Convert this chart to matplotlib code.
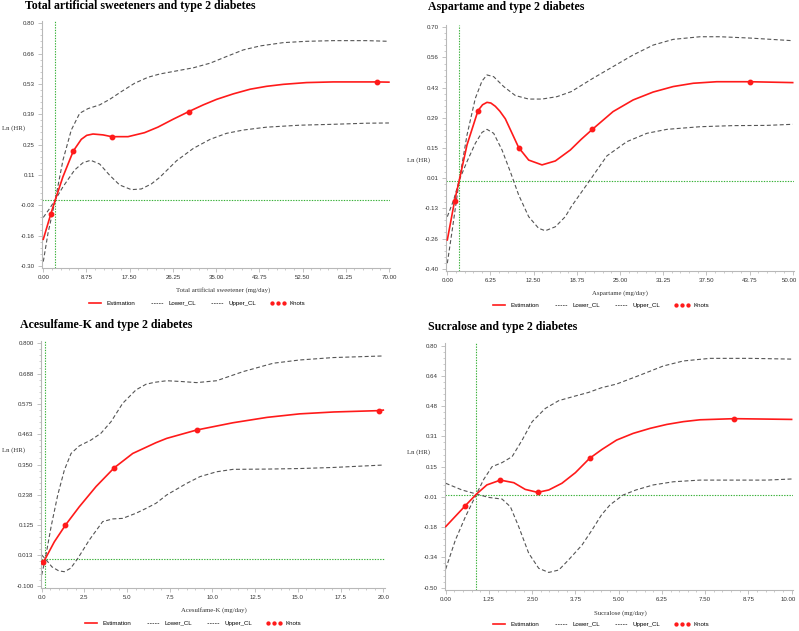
import numpy as np
import matplotlib
matplotlib.use("Agg")
import matplotlib.pyplot as plt
import matplotlib.transforms as mtransforms
from matplotlib.lines import Line2D
from matplotlib.ticker import AutoMinorLocator

# ---------------- data ----------------
# Total artificial sweeteners
tot_est_x = [0, 1.50, 2.43, 3.99, 6.08, 7.70, 8.8, 10.07, 12.1, 13.85, 17.16, 20.5, 23.2, 26.3,
             29.5, 32.4, 35.1, 38.5, 41.9, 45.2, 48.6, 53.3, 58.7, 63.0, 67.5, 70]
tot_est_y = [-0.179, -0.066, 0.0, 0.105, 0.221, 0.274, 0.292, 0.298, 0.294, 0.286, 0.286, 0.304, 0.329, 0.365,
             0.400, 0.430, 0.455, 0.480, 0.501, 0.514, 0.523, 0.531, 0.534, 0.534, 0.534, 0.533]
tot_up_x = [0, 0.95, 2.43, 3.99, 5.67, 7.37, 9.05, 11.42, 13.45, 15.8, 18.5, 21.2, 23.6, 27.0,
            30.4, 33.8, 37.1, 40.5, 43.9, 48.6, 53.3, 58.7, 65.5, 70]
tot_up_y = [-0.280, -0.152, 0.0, 0.180, 0.316, 0.392, 0.413, 0.430, 0.455, 0.490, 0.528, 0.555, 0.570, 0.584,
            0.598, 0.619, 0.649, 0.679, 0.697, 0.712, 0.718, 0.721, 0.721, 0.718]
tot_lo_x = [0, 1.30, 2.43, 3.99, 6.35, 8.04, 9.6, 11.42, 13.45, 15.47, 17.83, 19.85, 21.9, 23.6,
            27.0, 30.4, 33.8, 37.1, 40.5, 45.2, 52, 58.7, 65.5, 70]
tot_lo_y = [-0.080, -0.039, 0.0, 0.059, 0.135, 0.168, 0.179, 0.162, 0.111, 0.067, 0.046, 0.049, 0.072, 0.102,
            0.177, 0.233, 0.274, 0.301, 0.316, 0.329, 0.338, 0.342, 0.347, 0.348]
tot_knot_x = [1.50, 6.08, 13.85, 29.5, 67.5]
tot_knot_y = [-0.066, 0.221, 0.286, 0.400, 0.534]

# Aspartame
asp_est_x = [0, 1.06, 1.74, 2.85, 4.44, 5.1, 5.74, 6.3, 6.95, 7.6, 8.40, 9.3, 10.33, 11.78, 13.71, 15.64,
             17.81, 19.4, 21.0, 24.0, 26.9, 29.8, 32.7, 35.6, 39.0, 43.8, 50]
asp_est_y = [-0.269, -0.090, 0.004, 0.164, 0.320, 0.347, 0.358, 0.355, 0.340, 0.318, 0.283, 0.222, 0.152, 0.095,
             0.073, 0.091, 0.141, 0.190, 0.235, 0.316, 0.369, 0.405, 0.430, 0.445, 0.452, 0.452, 0.448]
asp_up_x = [0, 0.68, 1.74, 2.85, 4.05, 5.02, 5.74, 6.71, 8.16, 9.85, 11.78, 13.71, 15.88, 17.95,
            21.1, 24.0, 26.9, 29.8, 32.7, 36.6, 39.5, 43.8, 50]
asp_up_y = [-0.375, -0.231, 0.004, 0.209, 0.376, 0.455, 0.483, 0.475, 0.430, 0.389, 0.373, 0.373, 0.384, 0.407,
            0.468, 0.521, 0.574, 0.619, 0.645, 0.657, 0.657, 0.651, 0.639]
asp_lo_x = [0, 0.92, 1.74, 2.85, 4.05, 5.02, 5.74, 6.71, 7.92, 9.12, 10.33, 11.78, 13.22, 14.19,
            15.64, 17.08, 17.95, 20.66, 23.1, 26.0, 28.9, 31.8, 36.6, 41.4, 46.2, 50]
asp_lo_y = [-0.163, -0.087, 0.004, 0.088, 0.171, 0.221, 0.235, 0.217, 0.141, 0.042, -0.064, -0.163, -0.216, -0.227,
            -0.209, -0.163, -0.117, 0.004, 0.114, 0.179, 0.217, 0.235, 0.247, 0.252, 0.253, 0.258]
asp_knot_x = [1.06, 4.44, 10.33, 21.0, 43.8]
asp_knot_y = [-0.090, 0.320, 0.152, 0.235, 0.452]

# Acesulfame-K
ace_est_x = [0, 0.10, 0.21, 0.74, 1.39, 2.20, 3.18, 4.25, 5.33, 6.69, 7.32, 9.07,
             11.2, 13.2, 15.1, 17.1, 19.75, 20]
ace_est_y = [-0.017, -0.013, 0.0, 0.063, 0.125, 0.193, 0.268, 0.338, 0.391, 0.431, 0.447, 0.478,
             0.505, 0.525, 0.538, 0.545, 0.550, 0.552]
ace_up_x = [0, 0.21, 0.55, 0.94, 1.33, 1.72, 2.20, 2.89, 3.47, 4.06, 4.74, 5.52, 6.11, 6.60,
            7.32, 8.2, 9.07, 10.24, 11.8, 13.56, 15.1, 17.07, 20]
ace_up_y = [-0.060, 0.0, 0.119, 0.237, 0.330, 0.391, 0.419, 0.441, 0.466, 0.509, 0.577, 0.627, 0.648, 0.655,
            0.661, 0.658, 0.654, 0.661, 0.695, 0.726, 0.738, 0.747, 0.753]
ace_lo_x = [0, 0.21, 0.6, 1.0, 1.33, 1.7, 2.11, 2.79, 3.57, 4.16, 4.74, 5.52, 6.11, 6.69,
            7.32, 8.49, 9.27, 10.24, 11.2, 13.2, 15.1, 17.07, 20]
ace_lo_y = [0.014, 0.0, -0.030, -0.045, -0.048, -0.035, 0.001, 0.070, 0.138, 0.148, 0.150, 0.169, 0.187, 0.206,
            0.237, 0.280, 0.305, 0.323, 0.332, 0.333, 0.335, 0.339, 0.348]
ace_knot_x = [0.10, 1.39, 4.25, 9.07, 19.75]
ace_knot_y = [-0.013, 0.125, 0.338, 0.478, 0.550]

# Sucralose
suc_est_x = [0, 0.57, 0.89, 1.19, 1.58, 1.97, 2.30, 2.66, 2.98, 3.36, 3.75, 4.16, 4.52, 4.94,
             5.42, 5.91, 6.39, 6.87, 7.35, 8.34, 10]
suc_est_y = [-0.172, -0.059, 0.003, 0.052, 0.078, 0.064, 0.028, 0.012, 0.025, 0.061, 0.118, 0.195, 0.243, 0.293,
             0.329, 0.356, 0.377, 0.392, 0.402, 0.408, 0.404]
suc_up_x = [0, 0.28, 0.57, 0.89, 1.10, 1.34, 1.63, 1.92, 2.21, 2.50, 2.88, 3.27, 3.75, 4.13,
            4.50, 4.94, 5.62, 6.29, 6.87, 7.64, 8.80, 10]
suc_up_y = [-0.400, -0.244, -0.119, 0.003, 0.082, 0.150, 0.172, 0.204, 0.293, 0.392, 0.463, 0.505, 0.530, 0.549,
            0.574, 0.594, 0.642, 0.691, 0.718, 0.732, 0.732, 0.728]
suc_lo_x = [0, 0.47, 0.89, 1.24, 1.63, 1.87, 2.11, 2.40, 2.69, 2.98, 3.27, 3.55, 3.94, 4.23,
            4.50, 4.75, 5.13, 5.5, 6.0, 6.58, 7.35, 8.31, 9.28, 10]
suc_lo_y = [0.061, 0.025, 0.003, -0.015, -0.024, -0.065, -0.172, -0.315, -0.396, -0.418, -0.405, -0.351, -0.271, -0.190,
            -0.110, -0.055, -0.002, 0.025, 0.052, 0.069, 0.078, 0.078, 0.078, 0.084]
suc_knot_x = [0.57, 1.58, 2.66, 4.16, 8.34]
suc_knot_y = [-0.059, 0.078, 0.012, 0.195, 0.408]

titles = ["Total artificial sweeteners and type 2 diabetes", "Aspartame and type 2 diabetes",
          "Acesulfame-K and type 2 diabetes", "Sucralose and type 2 diabetes"]
xlabels = ["Total artificial sweetener (mg/day)", "Aspartame (mg/day)",
           "Acesulfame-K (mg/day)", "Sucralose (mg/day)"]
ref_x = [2.43, 1.74, 0.19, 0.89]

tot_xticklabels = ['0.00', '8.75', '17.50', '26.25', '35.00', '43.75', '52.50', '61.25', '70.00']
tot_yticklabels = ['-0.30', '-0.16', '-0.03', '0.11', '0.25', '0.39', '0.53', '0.66', '0.80']
asp_xticklabels = ['0.00', '6.25', '12.50', '18.75', '25.00', '31.25', '37.50', '43.75', '50.00']
asp_yticklabels = ['-0.40', '-0.26', '-0.13', '0.01', '0.15', '0.29', '0.43', '0.56', '0.70']
ace_xticklabels = ['0.0', '2.5', '5.0', '7.5', '10.0', '12.5', '15.0', '17.5', '20.0']
ace_yticklabels = ['-0.100', '0.013', '0.125', '0.238', '0.350', '0.463', '0.575', '0.688', '0.800']
suc_xticklabels = ['0.00', '1.25', '2.50', '3.75', '5.00', '6.25', '7.50', '8.75', '10.00']
suc_yticklabels = ['-0.50', '-0.34', '-0.18', '-0.01', '0.15', '0.31', '0.48', '0.64', '0.80']

# ---------------- layout (pixels in a 799x631 figure) ----------------
W, H = 799, 631
SERIF = 'Liberation Serif'
SANS = 'Liberation Sans'

panels = [
    dict(box=(42, 21, 390, 268), xlim=(-0.26, 70.22), ylim=(-0.309, 0.810), xr=(0, 70), yr=(-0.30, 0.80),
         est=(tot_est_x, tot_est_y), up=(tot_up_x, tot_up_y), lo=(tot_lo_x, tot_lo_y), knots=(tot_knot_x, tot_knot_y),
         xtl=tot_xticklabels, ytl=tot_yticklabels,
         title=(25, 9.5), xlab=(223, 290), ylab=(2, 128), leg=(87, 303)),
    dict(box=(446, 25, 794, 271), xlim=(-0.19, 50.19), ylim=(-0.4105, 0.7105), xr=(0, 50), yr=(-0.40, 0.70),
         est=(asp_est_x, asp_est_y), up=(asp_up_x, asp_up_y), lo=(asp_lo_x, asp_lo_y), knots=(asp_knot_x, asp_knot_y),
         xtl=asp_xticklabels, ytl=asp_yticklabels,
         title=(428, 10), xlab=(620, 293), ylab=(407, 160), leg=(491, 305)),
    dict(box=(40.5, 341, 385, 588), xlim=(-0.07, 20.10), ylim=(-0.1085, 0.8085), xr=(0, 20), yr=(-0.10, 0.80),
         est=(ace_est_x, ace_est_y), up=(ace_up_x, ace_up_y), lo=(ace_lo_x, ace_lo_y), knots=(ace_knot_x, ace_knot_y),
         xtl=ace_xticklabels, ytl=ace_yticklabels,
         title=(20, 328), xlab=(214, 610), ylab=(2, 450), leg=(83, 623)),
    dict(box=(445, 343, 793, 590), xlim=(-0.02, 10.04), ylim=(-0.5124, 0.8145), xr=(0, 10), yr=(-0.50, 0.80),
         est=(suc_est_x, suc_est_y), up=(suc_up_x, suc_up_y), lo=(suc_lo_x, suc_lo_y), knots=(suc_knot_x, suc_knot_y),
         xtl=suc_xticklabels, ytl=suc_yticklabels,
         title=(428, 330), xlab=(620, 613), ylab=(407, 452), leg=(491, 624)),
]

RED = '#ff1a1a'
GRAY = '#555555'
GREEN = '#36b036'
AXC = '#b8b8b8'
TXT = '#333333'

fig = plt.figure(figsize=(W / 100, H / 100), dpi=100)


def fx(px):
    return px / W


def fy(py):
    return 1 - py / H


for i, p in enumerate(panels):
    l, t, r, b = p['box']
    ax = fig.add_axes([fx(l), fy(b), (r - l) / W, (b - t) / H])
    ax.set_xlim(p['xlim'])
    ax.set_ylim(p['ylim'])

    ax.axvline(ref_x[i], color=GREEN, lw=0.8, ls=(0, (1.2, 1.2)), zorder=1)
    ax.axhline(0, color=GREEN, lw=0.8, ls=(0, (1.2, 1.2)), zorder=1)

    ax.plot(*p['up'], color=GRAY, lw=0.8, dashes=(3.6, 2.2), zorder=2)
    ax.plot(*p['lo'], color=GRAY, lw=0.8, dashes=(3.6, 2.2), zorder=2)
    ax.plot(*p['est'], color=RED, lw=1.2, zorder=3)
    ax.plot(*p['knots'], ls='', marker='o', ms=3.2, color=RED, zorder=4)

    for s in ['top', 'right']:
        ax.spines[s].set_visible(False)
    for s in ['left', 'bottom']:
        ax.spines[s].set_color(AXC)
        ax.spines[s].set_linewidth(0.8)

    ax.set_xticks(np.linspace(p['xr'][0], p['xr'][1], 9))
    ax.set_xticklabels(p['xtl'])
    ax.set_yticks(np.linspace(p['yr'][0], p['yr'][1], 9))
    ax.set_yticklabels(p['ytl'])
    ax.xaxis.set_minor_locator(AutoMinorLocator(5))
    ax.yaxis.set_minor_locator(AutoMinorLocator(5))
    ax.tick_params(which='major', length=3, width=0.6, color=AXC, labelsize=4.4,
                   labelcolor=TXT, pad=2)
    ax.tick_params(which='minor', length=1.6, width=0.5, color=AXC)
    for lab in ax.get_xticklabels() + ax.get_yticklabels():
        lab.set_family(SANS)
    if i in (1, 3):
        # keep the last tick label inside the figure
        last = ax.get_xticklabels()[-1]
        last.set_transform(last.get_transform() +
                           mtransforms.ScaledTranslation(-3 / 100, 0, fig.dpi_scale_trans))

    fig.text(fx(p['title'][0]), fy(p['title'][1]), titles[i], family=SERIF, weight='bold',
             fontsize=8.6, ha='left', va='baseline', color='black')
    fig.text(fx(p['xlab'][0]), fy(p['xlab'][1]), xlabels[i], family=SERIF, fontsize=4.9,
             ha='center', va='center', color=TXT)
    fig.text(fx(p['ylab'][0]), fy(p['ylab'][1]), 'Ln (HR)', family=SERIF, fontsize=4.9,
             ha='left', va='center', color=TXT)

    handles = [Line2D([], [], color=RED, lw=1.2),
               Line2D([], [], color=GRAY, lw=0.6, dashes=(2, 1)),
               Line2D([], [], color=GRAY, lw=0.6, dashes=(2, 1)),
               Line2D([], [], ls='', marker='o', ms=2.1, color=RED)]
    fig.legend(handles, ['Estimation', 'Lower_CL', 'Upper_CL', 'Knots'], ncol=4, numpoints=3,
               loc='center left', bbox_to_anchor=(fx(p['leg'][0]), fy(p['leg'][1])),
               frameon=False, borderpad=0, borderaxespad=0, handlelength=2.6,
               handletextpad=0.6, columnspacing=2.2, prop={'family': SANS, 'size': 4.4})

fig.savefig('out.png', dpi=100)
